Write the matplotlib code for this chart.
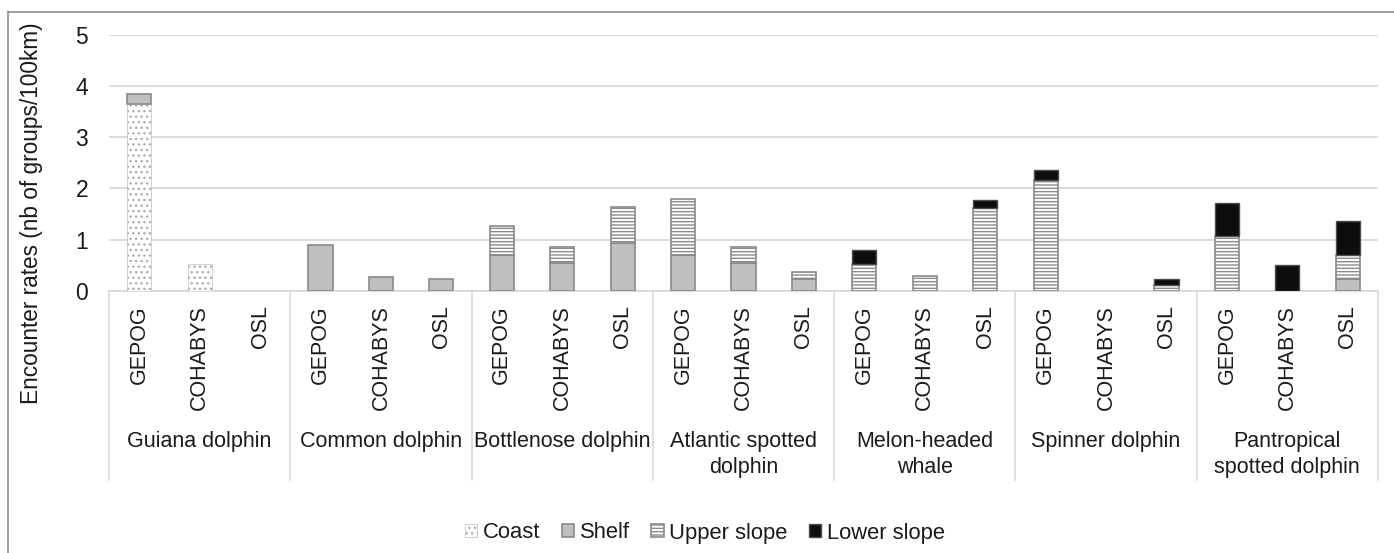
import numpy as np
import matplotlib
matplotlib.use('Agg')
import matplotlib.pyplot as plt
from matplotlib.lines import Line2D
from matplotlib.transforms import blended_transform_factory

plt.rcParams['font.family'] = ['Liberation Sans', 'DejaVu Sans']
plt.rcParams['hatch.linewidth'] = 1.0

species = ['Guiana dolphin', 'Common dolphin', 'Bottlenose dolphin',
           'Atlantic spotted\ndolphin', 'Melon-headed\nwhale',
           'Spinner dolphin', 'Pantropical\nspotted dolphin']
surveys = ['GEPOG', 'COHABYS', 'OSL']

# encounter rates per depth zone, in survey order within each species
coast = [3.65, 0.52, 0,  0, 0, 0,  0, 0, 0,  0, 0, 0,
         0, 0, 0,  0, 0, 0,  0, 0, 0]
shelf = [0.19, 0, 0,  0.89, 0.28, 0.23,  0.71, 0.55, 0.93,  0.71, 0.55, 0.23,
         0, 0, 0,  0, 0, 0,  0, 0, 0.23]
upper_slope = [0, 0, 0,  0, 0, 0,  0.55, 0.30, 0.70,  1.09, 0.30, 0.14,
               0.53, 0.30, 1.61,  2.16, 0, 0.12,  1.07, 0, 0.47]
lower_slope = [0, 0, 0,  0, 0, 0,  0, 0, 0,  0, 0, 0,
               0.26, 0, 0.16,  0.19, 0, 0.11,  0.64, 0.51, 0.66]

zones = [
    ('Coast', coast, dict(facecolor='white', edgecolor='#adadad', hatch='...', linewidth=0.4)),
    ('Shelf', shelf, dict(facecolor='#bfbfbf', edgecolor='#8a8a8a', linewidth=1.2)),
    ('Upper slope', upper_slope, dict(facecolor='white', edgecolor='#8a8a8a', hatch='-----', linewidth=1.2)),
    ('Lower slope', lower_slope, dict(facecolor='#0d0d0d', edgecolor='#4d4d4d', linewidth=1.0)),
]

W, H = 1394, 553
fig = plt.figure(figsize=(W / 100, H / 100), dpi=100)
ax = fig.add_axes([109 / W, 1 - 291 / H, 1269 / W, 256.5 / H])

x = np.arange(len(species) * len(surveys))
bottom = np.zeros(len(x))
for name, values, style in zones:
    values = np.array(values, dtype=float)
    keep = values > 0
    ax.bar(x[keep], values[keep], width=0.4, bottom=bottom[keep], label=name, zorder=3, **style)
    bottom += values

ax.set_xlim(-0.5, len(x) - 0.5)
ax.set_ylim(0, 5)
ax.set_yticks(range(6))
ax.set_xticks([])
ax.tick_params(axis='y', length=0, pad=15, labelsize=16.5, labelcolor='#1a1a1a')
ax.yaxis.grid(True, color='#d9d9d9', linewidth=1.3, zorder=0)
for side in ['left', 'right', 'top']:
    ax.spines[side].set_visible(False)
ax.spines['bottom'].set_color('#d9d9d9')
ax.spines['bottom'].set_linewidth(1.3)

# two-level category axis below the bars
trans = blended_transform_factory(ax.transData, ax.transAxes)
for i, xi in enumerate(x):
    ax.text(xi, -0.055, surveys[i % 3], transform=trans, rotation=90,
            ha='center', va='top', fontsize=15.5, color='#1a1a1a')
for g, name in enumerate(species):
    ax.text(3 * g + 1, -0.545, name, transform=trans, ha='center', va='top',
            fontsize=15.5, color='#1a1a1a', linespacing=1.3)
for b in np.arange(len(species) + 1) * 3 - 0.5:
    ax.add_line(Line2D([b, b], [0, -0.737], transform=trans, color='#d9d9d9',
                       linewidth=1.2, clip_on=False))

fig.text(32 / W, 1 - 213 / H, 'Encounter rates (nb of groups/100km)', rotation=90,
         ha='center', va='center', fontsize=16.3, color='#1a1a1a')

fig.legend(loc='center', bbox_to_anchor=(705 / W, 1 - 533 / H), ncol=4, frameon=False,
           fontsize=15.8, handlelength=0.55, handleheight=0.55, handletextpad=0.25,
           columnspacing=1.0, labelcolor='#1a1a1a')

# outer frame edges
fig.add_artist(Line2D([8 / W, 1], [1 - 12 / H, 1 - 12 / H], color='#8c8c8c', linewidth=1.2))
fig.add_artist(Line2D([8 / W, 8 / W], [0, 1 - 12 / H], color='#8c8c8c', linewidth=1.2))

fig.savefig('out.png', dpi=100, facecolor='white')
